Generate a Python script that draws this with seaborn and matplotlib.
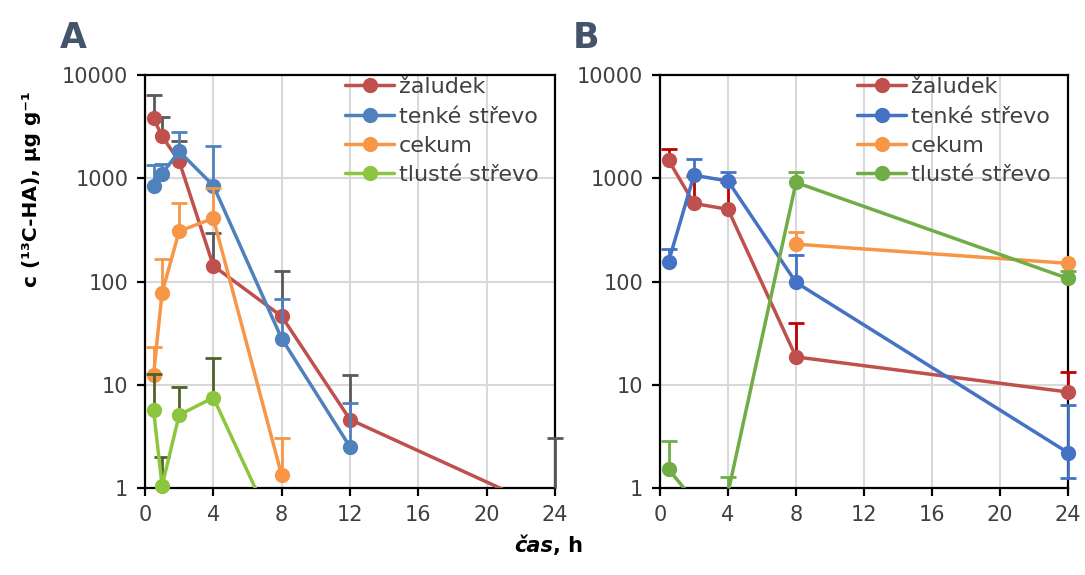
import numpy as np
import pandas as pd
import matplotlib
matplotlib.use("Agg")
import matplotlib.pyplot as plt
from matplotlib.lines import Line2D
import seaborn as sns

# ---------------- data ----------------
series_names = ["žaludek", "tenké střevo", "cekum", "tlusté střevo"]
x_ticks = [0, 4, 8, 12, 16, 20, 24]
y_ticks = [1, 10, 100, 1000, 10000]
y_tick_labels = ["1", "10", "100", "1000", "10000"]

# Panel A
a_zal_t = [0.5, 1, 2, 4, 8, 12, 24]
a_zal_v = [3800, 2550, 1460, 142, 46, 4.6, 0.57]
a_zal_e = [2600, 1350, 820, 151, 79, 7.7, 2.5]

a_ten_t = [0.5, 1, 2, 4, 8, 12]
a_ten_v = [850, 1110, 1820, 850, 28, 2.5]
a_ten_e = [500, 250, 990, 1190, 40, 4.2]

a_cek_t = [0.5, 1, 2, 4, 8]
a_cek_v = [12.5, 78, 307, 410, 1.33]
a_cek_e = [10.5, 88, 263, 390, 1.72]

a_tls_t = [0.5, 1, 2, 4, 8]
a_tls_v = [5.7, 1.05, 5.1, 7.5, 0.28]
a_tls_e = [7.0, 0.95, 4.5, 10.5, 0.0]

# Panel B
b_zal_t = [0.5, 2, 4, 8, 24]
b_zal_v = [1500, 570, 500, 18.6, 8.5]
b_zal_e = [400, 480, 410, 21, 4.9]

b_ten_t = [0.5, 2, 4, 8, 24]
b_ten_v = [155, 1070, 940, 98, 2.2]
b_ten_e = [50, 450, 200, 84, 4.1]
b_ten_lo = [0, 0, 0, 0, 0.94]

b_cek_t = [8, 24]
b_cek_v = [230, 150]
b_cek_e = [70, 0]

b_tls_t = [0.5, 2, 4, 8, 24]
b_tls_v = [1.52, 0.76, 0.9, 910, 107]
b_tls_e = [1.33, 0.0, 0.38, 230, 18]

# colours
a_colors = ["#C0504D", "#4F81BD", "#F79646", "#8CC63F"]
a_err_colors = ["#595959", "#4F81BD", "#F79646", "#4F6228"]
b_colors = ["#C0504D", "#4472C4", "#F79646", "#70AD47"]
b_err_colors = ["#C00000", "#4472C4", "#F79646", "#70AD47"]

sns.set_theme(style="white")
plt.rcParams["font.family"] = ["DejaVu Sans"]

fig = plt.figure(figsize=(10.85, 5.75), dpi=100)
axA = fig.add_axes([145 / 1085, 1 - 488 / 575, 410 / 1085, 413 / 575])
axB = fig.add_axes([660 / 1085, 1 - 488 / 575, 408 / 1085, 413 / 575])

TICK_COL = "#404040"
MS = 11
LW = 2.5
YMIN, YMAX = 1, 10000


def draw_series(ax, t, v, e_up, color, ecolor, e_lo=None, z=2):
    t = np.asarray(t, float)
    v = np.asarray(v, float)
    up = np.asarray(e_up, float)
    # error bars (behind the markers of this series), cut at the axis floor
    m = (up > 0) & (v + up > YMIN)
    ax.vlines(t[m], np.maximum(v[m], YMIN), v[m] + up[m], colors=ecolor,
              linewidth=2.0, zorder=z, clip_on=False)
    ax.plot(t[m], v[m] + up[m], ls="none", marker="_", ms=12, mew=2.0,
            color=ecolor, zorder=z, clip_on=False)
    if e_lo is not None:
        lo = np.asarray(e_lo, float)
        ml = lo > 0
        ax.vlines(t[ml], np.maximum(v[ml] - lo[ml], YMIN), v[ml],
                  colors=ecolor, linewidth=2.0, zorder=z, clip_on=False)
        ax.plot(t[ml], v[ml] - lo[ml], ls="none", marker="_", ms=12, mew=2.0,
                color=ecolor, zorder=z, clip_on=False)
    df = pd.DataFrame({"t": t, "v": v})
    # connecting line (clipped to the plot area)
    sns.lineplot(data=df, x="t", y="v", ax=ax, color=color, linewidth=LW,
                 errorbar=None, sort=False, legend=False, zorder=z + 0.3)
    # markers: only the points inside the value range, drawn unclipped
    inside = df[(df.v >= YMIN) & (df.v <= YMAX)]
    ax.plot(inside.t, inside.v, ls="none", marker="o", ms=MS, mew=0,
            color=color, zorder=z + 0.5, clip_on=False)


def style_axes(ax):
    ax.set_yscale("log")
    ax.set_xlim(0, 24)
    ax.set_ylim(YMIN, YMAX)
    ax.set_xticks(x_ticks)
    ax.set_xticklabels([str(x) for x in x_ticks])
    ax.set_yticks(y_ticks)
    ax.set_yticklabels(y_tick_labels)
    ax.minorticks_off()
    ax.grid(True, color="#D9D9D9", linewidth=1.5)
    ax.set_axisbelow(True)
    for s in ax.spines.values():
        s.set_color("black")
        s.set_linewidth(1.6)
        s.set_visible(True)
        s.set_zorder(1.5)
    ax.tick_params(axis="both", which="major", direction="out", length=6,
                   width=1.6, color="black", labelcolor=TICK_COL,
                   labelsize=15, bottom=True, left=True, top=False, right=False,
                   pad=6)
    ax.set_xlabel("")
    ax.set_ylabel("")


a_data = [
    (a_zal_t, a_zal_v, a_zal_e, None),
    (a_ten_t, a_ten_v, a_ten_e, None),
    (a_cek_t, a_cek_v, a_cek_e, None),
    (a_tls_t, a_tls_v, a_tls_e, None),
]
b_data = [
    (b_zal_t, b_zal_v, b_zal_e, None),
    (b_ten_t, b_ten_v, b_ten_e, b_ten_lo),
    (b_cek_t, b_cek_v, b_cek_e, None),
    (b_tls_t, b_tls_v, b_tls_e, None),
]

for i, ((t, v, e, lo), c, ec) in enumerate(zip(a_data, a_colors, a_err_colors)):
    draw_series(axA, t, v, e, c, ec, lo, z=2 + i)
for i, ((t, v, e, lo), c, ec) in enumerate(zip(b_data, b_colors, b_err_colors)):
    draw_series(axB, t, v, e, c, ec, lo, z=2 + i)

style_axes(axA)
style_axes(axB)


def add_legend(ax, colors, x0):
    handles = [Line2D([0], [0], color=c, linewidth=LW, marker="o",
                      markersize=MS, markeredgewidth=0) for c in colors]
    leg = ax.legend(handles, series_names, loc="upper left",
                    bbox_to_anchor=(x0, 1.0), frameon=False, borderaxespad=0,
                    borderpad=0.1, handlelength=2.2, handletextpad=0.2,
                    labelspacing=0.42, fontsize=16)
    leg.set_zorder(10)
    for txt in leg.get_texts():
        txt.set_color(TICK_COL)


add_legend(axA, a_colors, 0.483)
add_legend(axB, b_colors, 0.478)

# panel letters
fig.text(60 / 1085, 1 - 48 / 575, "A", fontsize=25, fontweight="bold",
         color="#44546A", ha="left", va="baseline")
fig.text(573 / 1085, 1 - 48 / 575, "B", fontsize=25, fontweight="bold",
         color="#44546A", ha="left", va="baseline")

# y label
fig.text(32 / 1085, 1 - 189 / 575, "c (¹³C-HA), µg g⁻¹", rotation=90,
         fontsize=14.5, fontweight="bold", color="black", ha="center",
         va="center")

# x label: "čas" bold italic + ", h" bold
xl_x = 553 / 1085
xl_y = 1 - 552 / 575
fig.text(xl_x, xl_y, "čas", fontsize=15, fontweight="bold", style="italic",
         color="black", ha="right", va="baseline")
fig.text(xl_x, xl_y, ", h", fontsize=15, fontweight="bold", color="black",
         ha="left", va="baseline")

fig.savefig("out.png", dpi=100)
